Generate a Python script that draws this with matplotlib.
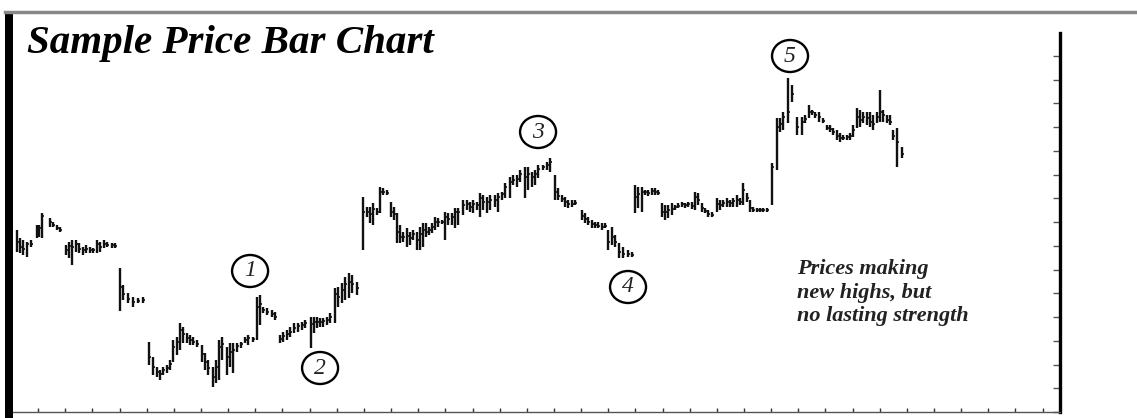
import numpy as np
import matplotlib
matplotlib.use("Agg")
import matplotlib.pyplot as plt
from matplotlib.patches import Ellipse, Rectangle
from matplotlib.lines import Line2D

# price bars, one segment per run of bars (day, high, low, close)
day_a = [17, 20, 23, 27, 31, 37, 39, 42, 50, 53, 57, 60, 66, 69, 72, 76, 79,
         83, 86, 90, 93, 97, 100, 104, 107, 112, 115, 120, 123, 128, 133, 138, 143]
high_a = [182, 174, 172, 170, 172, 187, 187, 199, 194, 190, 187, 185, 167, 170, 172, 172, 169,
          165, 167, 165, 164, 172, 170, 172, 170, 169, 169, 144, 127, 119, 115, 114, 115]
low_a = [160, 159, 157, 155, 165, 174, 175, 174, 185, 185, 182, 180, 157, 154, 147, 160, 159,
         157, 159, 159, 159, 159, 160, 164, 165, 164, 164, 101, 112, 109, 105, 109, 109]
close_a = [170, 165, 163, 168, 168, 182, 184, 196, 190, 187, 184, 182, 162, 166, 165, 168, 163,
           162, 163, 162, 162, 168, 165, 168, 167, 167, 166, 125, 118, 113, 110, 111, 112]

day_b = [149, 153, 157, 160, 163, 167, 170, 173, 177, 180, 183, 187, 190, 193, 197,
         202, 205, 208, 213, 216, 219, 222, 227, 230, 233, 237, 241, 245, 248, 253,
         257, 260, 263, 267, 272, 275, 280, 283, 287, 290, 294, 298, 302, 305,
         311, 314, 317, 320, 323, 327, 330, 335, 338, 342, 345, 349, 352, 357]
high_b = [70, 55, 45, 42, 45, 47, 52, 72, 75, 89, 85, 79, 77, 75, 72,
          67, 59, 52, 45, 52, 72, 75, 65, 69, 69, 69, 70, 75, 77, 75,
          115, 117, 105, 104, 102, 100, 77, 80, 82, 85, 89, 89, 90, 92,
          95, 95, 95, 94, 94, 95, 99, 124, 125, 129, 135, 139, 137, 130]
low_b = [47, 37, 35, 32, 37, 39, 42, 50, 57, 62, 69, 69, 67, 67, 65,
         50, 42, 37, 25, 29, 32, 52, 37, 45, 39, 60, 64, 69, 67, 70,
         72, 87, 99, 97, 95, 92, 69, 70, 72, 75, 79, 80, 82, 84,
         64, 79, 84, 85, 85, 87, 89, 89, 105, 109, 112, 114, 119, 117]
close_b = [55, 45, 40, 38, 42, 44, 48, 65, 70, 82, 78, 74, 72, 70, 68,
           58, 50, 44, 35, 45, 65, 68, 55, 60, 62, 66, 68, 72, 74, 73,
           105, 108, 102, 100, 98, 95, 73, 76, 78, 80, 84, 86, 87, 89,
           88, 90, 90, 90, 91, 92, 95, 118, 115, 122, 128, 130, 128, 124]

day_c = [363, 367, 370, 373, 377, 380, 383, 387, 391, 394,
         397, 400, 403, 407, 410, 413, 417, 420, 423, 426,
         429, 432, 435, 438, 442, 445, 448, 452, 455, 458,
         463, 467, 470, 473, 477, 480, 483, 487, 490, 495,
         498, 502, 505, 510, 513, 517, 520, 525, 528, 532,
         535, 538, 543, 547, 550, 555, 558, 562, 565, 568,
         572, 575, 582, 585, 588, 592, 595, 598, 602, 605,
         608, 612, 615, 619, 623, 628, 632]
high_c = [215, 205, 205, 209, 204, 225, 224, 222, 210, 205,
          199, 187, 180, 184, 180, 182, 180, 185, 189, 189,
          185, 189, 195, 194, 192, 200, 199, 199, 204, 204,
          212, 212, 210, 212, 210, 219, 217, 215, 217, 217,
          219, 220, 229, 235, 237, 237, 242, 245, 245, 240,
          242, 247, 247, 250, 254, 237, 224, 217, 215, 212,
          212, 212, 202, 199, 195, 192, 190, 190, 189, 189,
          182, 185, 177, 169, 165, 162, 160]
low_c = [162, 195, 189, 187, 197, 199, 217, 217, 195, 192,
         169, 169, 170, 165, 167, 172, 162, 162, 165, 175,
         177, 179, 182, 185, 188, 172, 187, 187, 184, 187,
         197, 202, 200, 199, 202, 195, 202, 199, 202, 205,
         200, 212, 214, 214, 227, 225, 230, 214, 222, 225,
         227, 234, 242, 242, 240, 212, 212, 210, 205, 204,
         205, 207, 192, 189, 187, 184, 184, 184, 182, 184,
         162, 167, 165, 154, 154, 155, 155]
close_c = [200, 200, 198, 203, 200, 220, 220, 219, 200, 198,
           180, 175, 175, 176, 174, 178, 172, 178, 182, 180,
           182, 185, 190, 190, 190, 195, 193, 195, 200, 200,
           207, 208, 205, 208, 207, 214, 210, 210, 212, 212,
           215, 218, 225, 230, 232, 233, 238, 235, 238, 235,
           238, 243, 245, 247, 250, 220, 216, 213, 210, 208,
           208, 209, 196, 193, 190, 188, 187, 186, 185, 186,
           170, 175, 170, 160, 158, 158, 157]

day_d = [635, 638, 642, 645, 648, 652, 655, 658, 662, 665,
         668, 672, 675, 678, 682, 685, 688, 692, 695, 698,
         702, 705, 708, 712, 717, 720, 723, 727, 730, 733,
         737, 740, 743, 747, 750, 753, 757, 760, 763, 767,
         772, 777, 780, 783, 788, 792, 797, 802, 805, 809,
         812, 815, 819, 823, 827, 830, 833, 837, 840, 843,
         847, 850, 853, 857, 860, 863, 867, 870, 873, 877,
         880, 883, 887, 890, 893, 897, 902]
high_d = [227, 225, 225, 222, 222, 224, 224, 222, 209, 207,
          207, 209, 207, 209, 210, 209, 210, 210, 220, 219,
          209, 204, 202, 200, 214, 212, 212, 214, 212, 214,
          217, 214, 229, 219, 212, 205, 204, 204, 204, 204,
          249, 294, 294, 300, 334, 327, 295, 295, 297, 307,
          302, 300, 300, 294, 287, 287, 284, 282, 279, 277,
          277, 279, 287, 304, 302, 300, 300, 300, 297, 300,
          322, 302, 297, 297, 282, 284, 265]
low_d = [199, 204, 200, 217, 216, 217, 217, 217, 195, 192,
         194, 197, 202, 204, 205, 204, 205, 203, 202, 207,
         200, 199, 195, 195, 200, 202, 205, 205, 205, 205,
         205, 207, 207, 210, 200, 200, 200, 200, 200, 200,
         207, 242, 280, 282, 289, 310, 277, 277, 289, 294,
         297, 294, 290, 289, 282, 280, 277, 272, 270, 272,
         272, 272, 275, 284, 285, 289, 287, 285, 282, 289,
         290, 290, 289, 287, 272, 245, 254]
close_d = [215, 218, 220, 220, 219, 221, 220, 219, 200, 200,
           202, 203, 205, 206, 208, 207, 208, 206, 215, 212,
           204, 201, 198, 197, 208, 207, 209, 210, 209, 211,
           212, 210, 222, 214, 204, 202, 202, 202, 202, 202,
           245, 285, 288, 295, 300, 318, 285, 290, 293, 300,
           300, 297, 295, 291, 284, 283, 280, 276, 274, 274,
           275, 276, 282, 295, 292, 295, 294, 290, 288, 295,
           300, 297, 292, 290, 276, 270, 258]

# wave labels: number, day, price
wave_nums = ["1", "2", "3", "4", "5"]
wave_day = [250, 320, 538, 628, 790]
wave_price = [141, 44, 280, 125, 356]

title = "Sample Price Bar Chart"
note = "Prices making\nnew highs, but\nno lasting strength"

day = np.array(day_a + day_b + day_c + day_d)
high = np.array(high_a + high_b + high_c + high_d)
low = np.array(low_a + low_b + low_c + low_d)
close = np.array(close_a + close_b + close_c + close_d)

W, H = 1137, 418
fig = plt.figure(figsize=(W / 100, H / 100), dpi=100)
ax = fig.add_axes([11 / W, 1 - 412 / H, (1060 - 11) / W, (412 - 33) / H])
ax.set_xlim(11, 1060)
ax.set_ylim(0, 379)

ax.vlines(day, low, high, color="#111111", lw=1.7)
ax.hlines(close, day, day + 2.2, color="#111111", lw=1.2)

for num, x, y in zip(wave_nums, wave_day, wave_price):
    ax.add_patch(Ellipse((x, y), 36, 32, fill=False, ec="black", lw=1.7, clip_on=False))
    ax.text(x, y, num, ha="center", va="center", fontsize=17, style="italic",
            family="Liberation Serif", color="#222222")

# frame
for s in ["top", "left"]:
    ax.spines[s].set_visible(False)
ax.spines["right"].set_linewidth(2.4)
ax.spines["bottom"].set_color("#555555")
ax.spines["bottom"].set_linewidth(1.0)
ax.yaxis.tick_right()
ax.set_yticks(np.arange(0, 380, 23.75))
ax.set_xticks(np.arange(10.9, 1050, 27.15))
ax.tick_params(axis="y", direction="in", length=5, width=1, color="#555555", labelright=False)
ax.tick_params(axis="x", direction="in", length=3, width=1, color="#333333", labelbottom=False)

fig.add_artist(Line2D([5 / W, 1], [1 - 12 / H, 1 - 12 / H], color="#888888", lw=2.5))
fig.add_artist(Rectangle((5 / W, 0), 8 / W, 1 - 12 / H, color="black", lw=0))

fig.text(27 / W, 1 - 53 / H, title, fontsize=29.5, weight="bold", style="italic",
         family="Liberation Serif", va="baseline", ha="left")
# baseline of a multi-line text sits on its last line
ax.text(797, 412 - 321, note, fontsize=16, weight="bold", style="italic",
        family="Liberation Serif", va="baseline", ha="left", linespacing=1.22,
        color="#222222")

fig.savefig("out.png", dpi=100)
